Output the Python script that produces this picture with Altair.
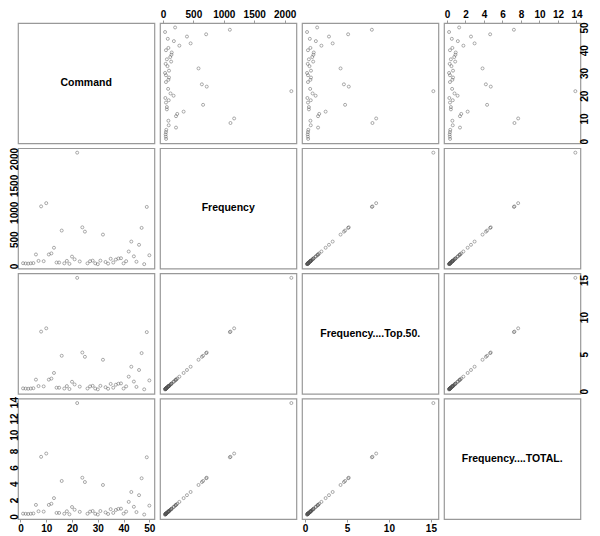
import altair as alt
import pandas as pd

command = list(range(1, 51))
frequency = [52, 48, 45, 50, 55, 215, 95, 1110, 90, 1170, 215, 235, 340, 65, 65, 660, 50, 95, 40, 175,
             125, 2110, 85, 720, 640, 50, 90, 100, 50, 35, 100, 585, 75, 45, 135, 65, 120, 140, 145, 50,
             90, 270, 455, 180, 80, 395, 710, 35, 1100, 200]
top50 = [0.38, 0.35, 0.33, 0.36, 0.40, 1.56, 0.69, 8.04, 0.65, 8.48, 1.56, 1.70, 2.46, 0.47, 0.47, 4.78,
         0.36, 0.69, 0.29, 1.27, 0.91, 15.29, 0.62, 5.22, 4.64, 0.36, 0.65, 0.72, 0.36, 0.25, 0.72, 4.24,
         0.54, 0.33, 0.98, 0.47, 0.87, 1.01, 1.05, 0.36, 0.65, 1.96, 3.30, 1.30, 0.58, 2.86, 5.14, 0.25,
         7.97, 1.45]
total = [0.34, 0.32, 0.30, 0.33, 0.36, 1.41, 0.63, 7.30, 0.59, 7.70, 1.41, 1.55, 2.24, 0.43, 0.43, 4.34,
         0.33, 0.63, 0.26, 1.15, 0.82, 13.88, 0.56, 4.74, 4.21, 0.33, 0.59, 0.66, 0.33, 0.23, 0.66, 3.85,
         0.49, 0.30, 0.89, 0.43, 0.79, 0.92, 0.95, 0.33, 0.59, 1.78, 2.99, 1.18, 0.53, 2.60, 4.67, 0.23,
         7.24, 1.32]

labels = ["Command", "Frequency", "Frequency....Top.50.", "Frequency....TOTAL."]
keys = ["cmd", "freq", "top", "tot"]
ticks = {
    "cmd": [0, 10, 20, 30, 40, 50],
    "freq": [0, 500, 1000, 1500, 2000],
    "top": [0, 5, 10, 15],
    "tot": [0, 2, 4, 6, 8, 10, 12, 14],
}

df = pd.DataFrame({"cmd": command, "freq": frequency, "top": top50, "tot": total})


def domain(vals):
    lo, hi = min(vals), max(vals)
    r = (hi - lo) * 0.04
    return [lo - r, hi + r]


domains = {k: domain(df[k].tolist()) for k in keys}

W = 136.4
H = 120.4
FONT = "Liberation Sans"


def axis(orient, key):
    angle = 0 if orient in ("top", "bottom") else 270
    return alt.Axis(orient=orient, values=ticks[key], grid=False, domain=False, format="d",
                    tickColor="#999999", tickSize=3, labelPadding=1,
                    labelFont=FONT, labelFontSize=10, labelFontWeight="bold",
                    labelColor="#000000", labelAngle=angle, title=None,
                    labelFlush=False, labelOverlap=False,
                    labelBaseline="middle" if orient in ("left", "right") else
                    ("bottom" if orient == "top" else "top"))


charts = []
for r in range(4):
    for c in range(4):
        if r == c:
            ch = alt.Chart(pd.DataFrame({"t": [labels[r]]})).mark_text(
                font=FONT, fontSize=10.5, fontWeight="bold", color="#000000"
            ).encode(text="t:N", x=alt.value(W / 2), y=alt.value(H / 2))
        else:
            xk, yk = keys[c], keys[r]
            xax = None
            if r == 0 and c % 2 == 1:
                xax = axis("top", xk)
            elif r == 3 and c % 2 == 0:
                xax = axis("bottom", xk)
            yax = None
            if c == 0 and r % 2 == 1:
                yax = axis("left", yk)
            elif c == 3 and r % 2 == 0:
                yax = axis("right", yk)
            ch = alt.Chart(df).mark_point(
                shape="circle", filled=False, size=9, stroke="#555555", strokeWidth=0.7
            ).encode(
                x=alt.X(f"{xk}:Q", scale=alt.Scale(domain=domains[xk], nice=False, zero=False), axis=xax),
                y=alt.Y(f"{yk}:Q", scale=alt.Scale(domain=domains[yk], nice=False, zero=False), axis=yax),
            )
        charts.append(ch.properties(width=W, height=H))

chart = alt.concat(*charts, columns=4, spacing={"row": 4.2, "column": 5}, bounds="flush").resolve_scale(
    x="independent", y="independent"
).properties(
    padding={"left": 0, "top": 0, "right": 0, "bottom": 0}
).configure_view(stroke="#999999", strokeWidth=1.2)

chart.save("out.html", embed_options={"renderer": "svg", "actions": False})
